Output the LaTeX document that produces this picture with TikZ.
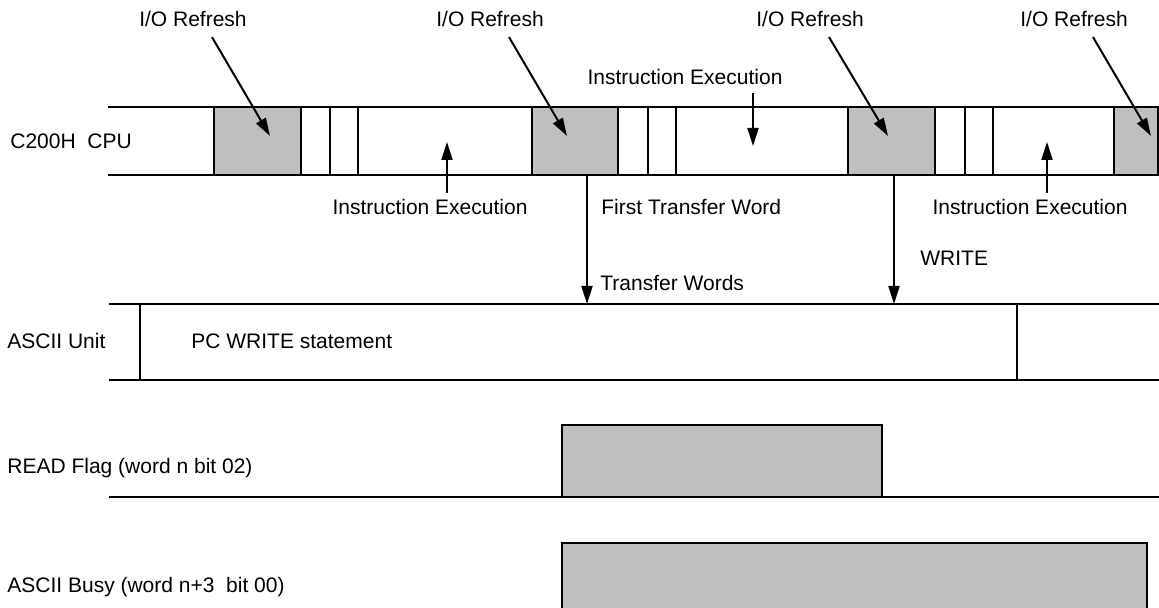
\documentclass[tikz,border=0pt]{standalone}
\usepackage{fontspec}
\setmainfont{Liberation Sans}
\usetikzlibrary{arrows.meta}
\tikzset{
  lbl/.style={font=\fontsize{10.5}{12}\selectfont, inner sep=0pt},
  rowline/.style={line width=1.1pt},
  tick/.style={line width=0.8pt},
  refbox/.style={draw, line width=1.1pt, fill=black!25, inner sep=0pt, outer sep=0pt},
  arr/.style={-{Triangle[length=9pt,width=5.5pt]}, line width=1pt}
}
\begin{document}
\begin{tikzpicture}[x=0.5pt,y=-0.5pt]
  \useasboundingbox (0,0) rectangle (1159,608);

  % C200H CPU row
  \node[lbl, anchor=west] (cpu) at (10,141) {C200H\ \ CPU};
  \draw[rowline] (108,107) -- (1159,107) (108,175) -- (1159,175);
  \foreach \n/\a/\b in {r1/214/301, r2/532/618, r3/848/935, r4/1114/1158}{
    \node[refbox, anchor=north west, minimum width={(\b-\a)*0.5pt},
          minimum height=34pt] (\n) at (\a,107) {};
  }
  \foreach \x in {330,358,648,676,965,993}{
    \draw[tick] (\x,107) -- (\x,175);
  }

  % I/O refresh labels
  \foreach \n/\lx/\tx in {1/193/270, 2/490/567, 3/810/888, 4/1074/1151}{
    \node[lbl] (io\n) at (\lx,19) {I/O Refresh};
    \coordinate (io\n t) at (\tx,136);
    \draw[arr] ([xshift=9.5pt,yshift=-5pt]io\n.south) -- (io\n t);
  }

  % Instruction execution labels
  \node[lbl] (ie1) at (430,207) {Instruction Execution};
  \node[lbl] (ie2) at (685,77) {Instruction Execution};
  \node[lbl] (ie3) at (1030,207) {Instruction Execution};
  \coordinate (ie1t) at (447,142);
  \coordinate (ie2t) at (753,146);
  \coordinate (ie3t) at (1047,142);
  \draw[arr] ([yshift=3pt]ie1.north -| ie1t) -- (ie1t);
  \draw[arr] ([yshift=-4pt]ie2.south -| ie2t) -- (ie2t);
  \draw[arr] ([yshift=3pt]ie3.north -| ie3t) -- (ie3t);

  \node[lbl, anchor=west] (ftw) at (601,207) {First Transfer Word};
  \node[lbl, anchor=west] (tws) at (600,283) {Transfer Words};
  \node[lbl, anchor=west] (wr) at (920,258) {WRITE};

  % ASCII Unit row
  \node[lbl, anchor=west] (asc) at (7,341) {ASCII Unit};
  \draw[rowline] (109,304) -- (1159,304) (109,380) -- (1159,380);
  \draw[tick] (140,304) -- (140,380);
  \draw[tick] (1017,304) -- (1017,380);
  \node[lbl, anchor=west] (pcw) at (191,341) {PC WRITE statement};

  \coordinate (tw1) at (587,304);
  \coordinate (tw2) at (894,304);
  \draw[arr] (r2.south -| tw1) -- (tw1);
  \draw[arr] (r3.south -| tw2) -- (tw2);

  % READ Flag
  \node[lbl, anchor=west] (rdf) at (7,468) {READ Flag (word n bit 02)};
  \draw[rowline] (109,497) -- (1159,497);
  \draw[refbox] (562,425) rectangle (882,497);

  % ASCII Busy
  \node[lbl, anchor=west] (bsy) at (7,587) {ASCII Busy (word n+3\ \ bit 00)};
  \draw[refbox] (562,543) rectangle (1147,620);
\end{tikzpicture}
\end{document}
